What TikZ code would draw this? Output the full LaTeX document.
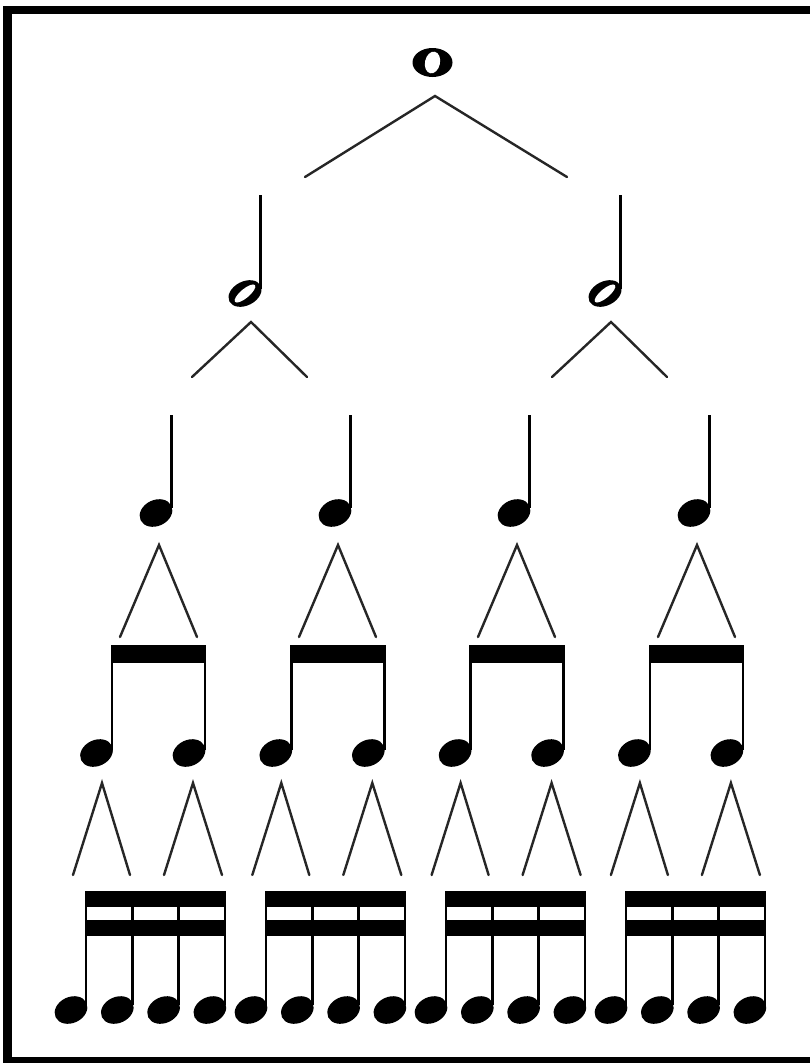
\documentclass[tikz,border=0pt]{standalone}
\usetikzlibrary{shapes.geometric}
\tikzset{
  branch/.style={line width=2.4pt, draw=black!85, line cap=round, line join=miter},
  stemline/.style={line width=2.8pt, draw=black},
  beambar/.style={fill=black},
  fhead/.style={ellipse, fill=black, inner sep=0pt, minimum width=34pt, minimum height=26pt, rotate=25},
  hhead/.style={ellipse, fill=black, inner sep=0pt, minimum width=35pt, minimum height=24pt, rotate=27},
  hhole/.style={ellipse, fill=white, inner sep=0pt, minimum width=26pt, minimum height=9pt, rotate=40},
  whead/.style={ellipse, fill=black, inner sep=0pt, minimum width=40pt, minimum height=29pt},
  whole/.style={ellipse, fill=white, inner sep=0pt, minimum width=15pt, minimum height=22pt, rotate=-12},
  frame/.style={line width=8.5pt, draw=black}
}
\begin{document}
\begin{tikzpicture}[x=1pt,y=-1pt]
\useasboundingbox (0,0) rectangle (810,1063);
\clip (0,0) rectangle (810,1063);
\fill[white] (0,0) rectangle (810,1063);
% frame
\coordinate (fTR) at (815,10);
\coordinate (fTL) at (7.5,10);
\coordinate (fBL) at (7.5,1061);
\coordinate (fBR) at (815,1061);
\draw[frame] (fTR) -- (fTL) -- (fBL) -- (fBR);

% whole note
\node[whead] (w) at (432.5,62.5) {};
\node[whole] (wh) at (432.5,62.5) {};
\coordinate (wA) at (435,96);
\coordinate (wL) at (305,177);
\coordinate (wR) at (567,177);
\draw[branch] (wL) -- (wA) -- (wR);

% half notes
\foreach \i/\hx in {0/245,1/605}{
  \draw[stemline] (\hx+15.5,289) -- (\hx+15.5,195);
  \node[hhead] (h\i) at (\hx,293.5) {};
  \node[hhole] (hh\i) at (\hx,293.5) {};
  \coordinate (hA\i) at (\hx+6,322);
  \coordinate (hL\i) at (\hx-53,377);
  \coordinate (hR\i) at (\hx+62,377);
  \draw[branch] (hL\i) -- (hA\i) -- (hR\i);
}

% quarter notes
\foreach \i/\qx in {0/156,1/335,2/514,3/694}{
  \draw[stemline] (\qx+15.5,508) -- (\qx+15.5,415);
  \node[fhead] (q\i) at (\qx,513) {};
  \coordinate (qA\i) at (\qx+3,545);
  \coordinate (qL\i) at (\qx-36,637);
  \coordinate (qR\i) at (\qx+41,637);
  \draw[branch] (qL\i) -- (qA\i) -- (qR\i);
}

% eighth notes
\foreach \g in {0,1,2,3}{
  \pgfmathsetmacro\ea{112+179.3*\g}
  \pgfmathsetmacro\eb{205+179.3*\g}
  \fill[beambar] (\ea-1.4,645) rectangle (\eb+1.4,663);
  \draw[stemline] (\ea,750) -- (\ea,646);
  \draw[stemline] (\eb,750) -- (\eb,646);
  \node[fhead] (e\g a) at (\ea-15.5,753) {};
  \node[fhead] (e\g b) at (\eb-16,753) {};
  \coordinate (eA\g a) at (\ea-10,783);
  \coordinate (eL\g a) at (\ea-39,875);
  \coordinate (eR\g a) at (\ea+18,875);
  \draw[branch] (eL\g a) -- (eA\g a) -- (eR\g a);
  \coordinate (eA\g b) at (\eb-12,783);
  \coordinate (eL\g b) at (\eb-41,875);
  \coordinate (eR\g b) at (\eb+17,875);
  \draw[branch] (eL\g b) -- (eA\g b) -- (eR\g b);
}

% sixteenth notes
\foreach \g in {0,1,2,3}{
  \pgfmathsetmacro\sa{86+180*\g}
  \pgfmathsetmacro\sd{86+180*\g+3*46.3}
  \fill[beambar] (\sa-1.3,891) rectangle (\sd+1.3,907);
  \fill[beambar] (\sa-1.3,920) rectangle (\sd+1.3,936);
  \foreach \k in {0,1,2,3}{
    \pgfmathsetmacro\sx{\sa+46.3*\k}
    \draw[stemline, line width=2.5pt] (\sx,1005) -- (\sx,892);
    \node[fhead] (s\g\k) at (\sx-15,1010) {};
  }
}
\end{tikzpicture}
\end{document}
